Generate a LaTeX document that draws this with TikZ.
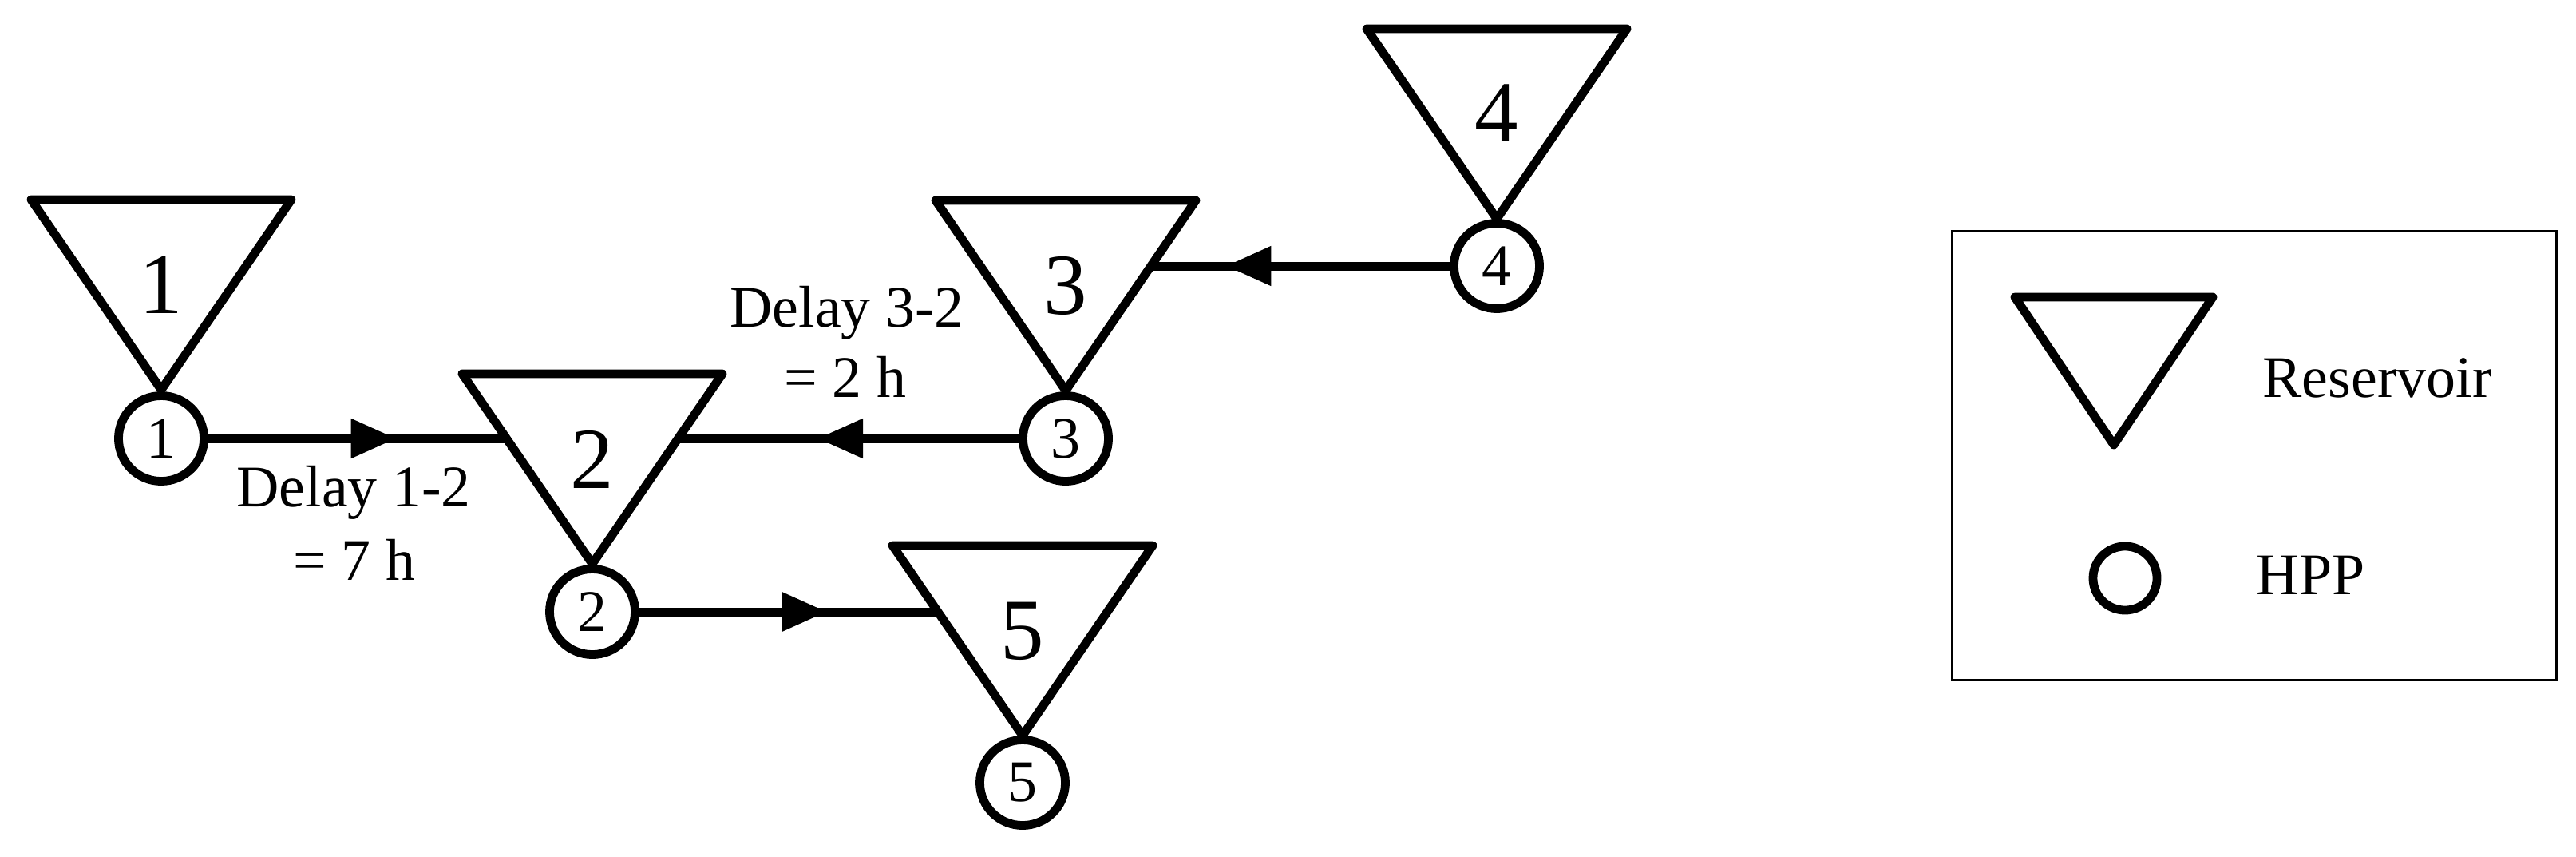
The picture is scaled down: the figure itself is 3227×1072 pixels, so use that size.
\documentclass[tikz,border=0pt]{standalone}
\usepackage{fontspec}
\setmainfont{Liberation Serif}
\usetikzlibrary{arrows.meta,decorations.markings}
\begin{document}
\begin{tikzpicture}[x=0.01cm,y=-0.01cm,
  thickline/.style={line width=0.108cm, line join=round, line cap=round},
  hpp/.style={circle, draw, line width=0.108cm, minimum size=1.07cm, inner sep=0pt, font=\fontsize{21}{25}\selectfont},
  bignum/.style={font=\fontsize{31}{37}\selectfont, inner sep=0pt},
  lbl/.style={font=\fontsize{21}{25.6}\selectfont, inner sep=0pt},
  flow/.style={line width=0.11cm, postaction={decorate}, decoration={markings, mark=at position #1 with {\arrow{Triangle[length=0.57cm,width=0.47cm]}}}},
  res/.pic={
    \draw[thickline] (-163,0) coordinate (-tl) -- (163,0) coordinate (-tr) -- (0,238) coordinate (-ap) -- cycle;
    \coordinate (-l) at (-106.8,82.1);
    \coordinate (-r) at (106.8,82.1);
  }
]
\useasboundingbox (0,0) rectangle (3227,1072);

% reservoirs
\pic (t1) at (202,250) {res};
\pic (t2) at (742,468) {res};
\pic (t3) at (1335,251) {res};
\pic (t4) at (1875,36) {res};
\pic (t5) at (1281,683) {res};

\node[bignum] (n1) at (202,357) {1};
\node[bignum] (n2) at (742,575) {2};
\node[bignum] (n3) at (1335,358) {3};
\node[bignum] (n4) at (1875,142) {4};
\node[bignum] (n5) at (1281,790) {5};

% HPPs
\node[hpp] (c1) at (202,549) {1};
\node[hpp] (c2) at (742,766) {2};
\node[hpp] (c3) at (1335,549) {3};
\node[hpp] (c4) at (1875,333) {4};
\node[hpp] (c5) at (1281,980) {5};

% flows
\draw[flow=0.63] (c1.east) -- (c1.east -| t2-l);
\draw[flow=0.59] (c3.west) -- (c3.west -| t2-r);
\draw[flow=0.75] (c4.west) -- (c4.west -| t3-r);
\draw[flow=0.63] (c2.east) -- (c2.east -| t5-l);

% delay labels
\node[lbl, anchor=base] (d12a) at (443,634) {Delay 1-2};
\node[lbl, anchor=base] (d12b) at (444,726) {= 7 h};
\node[lbl, anchor=base] (d32a) at (1061,409) {Delay 3-2};
\node[lbl, anchor=base] (d32b) at (1059,497) {= 2 h};

% legend
\node[draw, line width=0.03cm, minimum width=7.56cm, minimum height=5.61cm, inner sep=0pt] (legend) at (2824,570.5) {};
\coordinate (ltl) at (2524,372);
\coordinate (ltr) at (2772,372);
\coordinate (lap) at (2648,557);
\draw[thickline] (ltl) -- (ltr) -- (lap) -- cycle;
\node[hpp, minimum size=0.8cm] (lc) at (2662,724) {};
\node[lbl, anchor=base west] (lr) at (2834,497) {Reservoir};
\node[lbl, anchor=base west] (lh) at (2826,744) {HPP};
\end{tikzpicture}
\end{document}
